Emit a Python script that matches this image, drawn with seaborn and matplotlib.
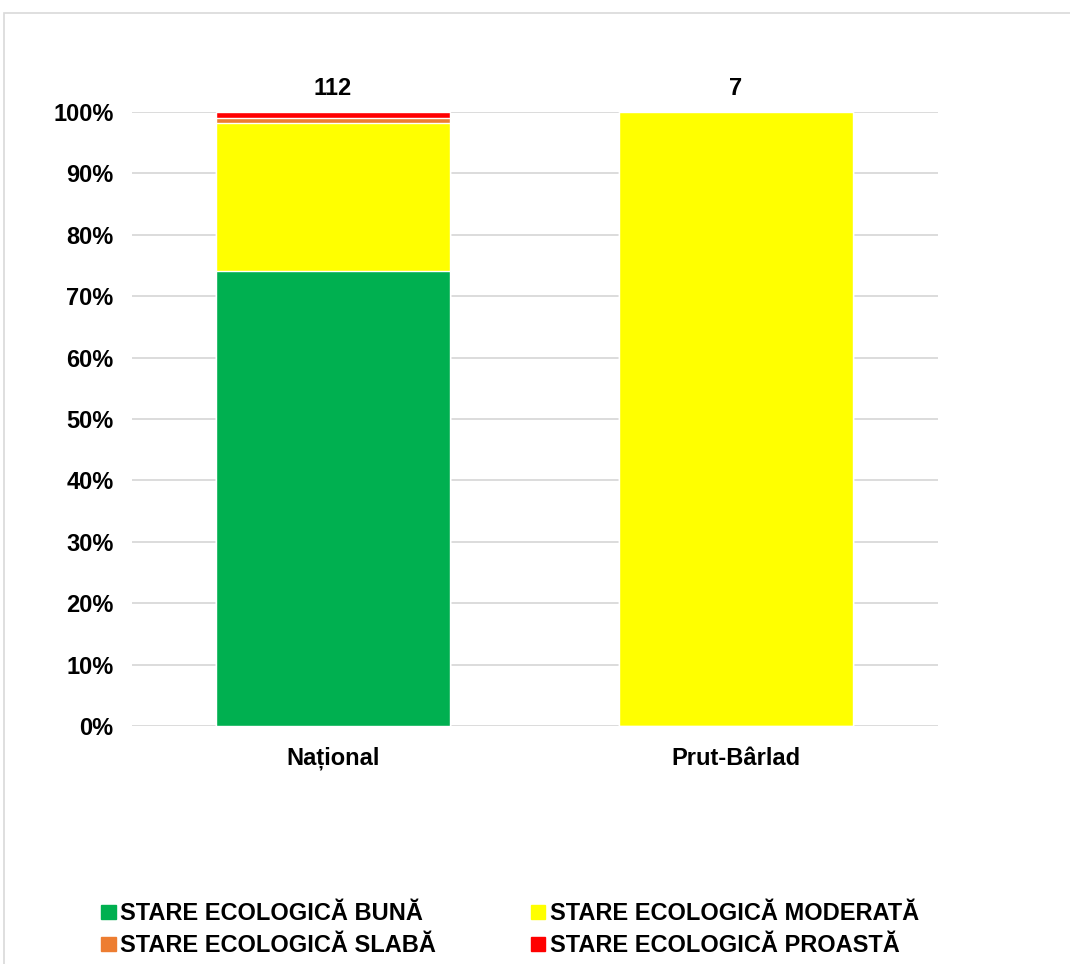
import matplotlib
matplotlib.use("Agg")
import matplotlib.pyplot as plt
import matplotlib.patches as mpatches
import pandas as pd
import seaborn as sns

# ----------------------------
# Data (share of water bodies per ecological status, %)
# ----------------------------
regions = ["Național", "Prut-Bârlad"]
counts = [112, 7]
buna = [74.1, 0.0]
moderata = [24.1, 100.0]
slaba = [0.9, 0.0]
proasta = [0.9, 0.0]

labels = ["STARE ECOLOGICĂ BUNĂ", "STARE ECOLOGICĂ MODERATĂ",
          "STARE ECOLOGICĂ SLABĂ", "STARE ECOLOGICĂ PROASTĂ"]
colors = ["#00b050", "#ffff00", "#ed7d31", "#ff0000"]

sns.set_style("white")
plt.rcParams["font.family"] = ["Liberation Sans", "DejaVu Sans"]
plt.rcParams["font.weight"] = "bold"
plt.rcParams["text.color"] = "black"
plt.rcParams["xtick.color"] = "black"
plt.rcParams["ytick.color"] = "black"

FS = 17

fig = plt.figure(figsize=(10.7, 9.64), dpi=100)
ax = fig.add_axes([131.5 / 1070, 1 - 726 / 964, 806 / 1070, 614 / 964])

# ----------------------------
# Stacked bars drawn as cumulative overlays (top segment first)
# ----------------------------
series = [buna, moderata, slaba, proasta]
tops = []
running = [0.0] * len(regions)
for s in series:
    running = [r + v for r, v in zip(running, s)]
    tops.append(list(running))

for i in reversed(range(len(series))):
    df = pd.DataFrame({"region": regions, "value": tops[i]})
    sns.barplot(data=df, x="region", y="value", color=colors[i],
                width=0.58, saturation=1, ax=ax, zorder=3)

ax.set_xlim(-0.5, 1.5)
ax.set_ylim(0, 100)
ax.set_yticks(range(0, 101, 10))
ax.set_yticklabels([f"{v}%" for v in range(0, 101, 10)], fontsize=FS, fontweight="bold")
ax.set_xticks(range(len(regions)))
ax.set_xticklabels(regions, fontsize=FS, fontweight="bold")
ax.tick_params(axis="both", length=0)
ax.tick_params(axis="y", pad=13)
ax.tick_params(axis="x", pad=15)
ax.set_xlabel("")
ax.set_ylabel("")
ax.grid(axis="y", color="#d9d9d9", linewidth=1.3, zorder=0)
ax.set_axisbelow(True)
for sp in ax.spines.values():
    sp.set_visible(False)

# totals above bars
for i, c in enumerate(counts):
    ax.annotate(str(c), (i, 100), xytext=(0, 12), textcoords="offset pixels",
                ha="center", va="bottom", fontsize=FS, fontweight="bold")

# ----------------------------
# Legend
# ----------------------------
handles = [mpatches.Patch(color=c, label=l) for c, l in zip(colors, labels)]
order = [0, 2, 1, 3]
fig.legend([handles[k] for k in order], [labels[k] for k in order],
           loc="upper left", bbox_to_anchor=(92 / 1070, 1 - 893 / 964),
           ncol=2, frameon=False, fontsize=FS,
           handlelength=0.6, handleheight=0.5, handletextpad=0.2,
           labelspacing=0.38, columnspacing=4.0, borderaxespad=0)

# outer chart border
fig.patches.append(mpatches.Rectangle((4 / 1070, -0.05), 1.0, 1.05 - 13 / 964,
                                      transform=fig.transFigure, fill=False,
                                      edgecolor="#d9d9d9", linewidth=1.2))

fig.savefig("out.png", dpi=100)
